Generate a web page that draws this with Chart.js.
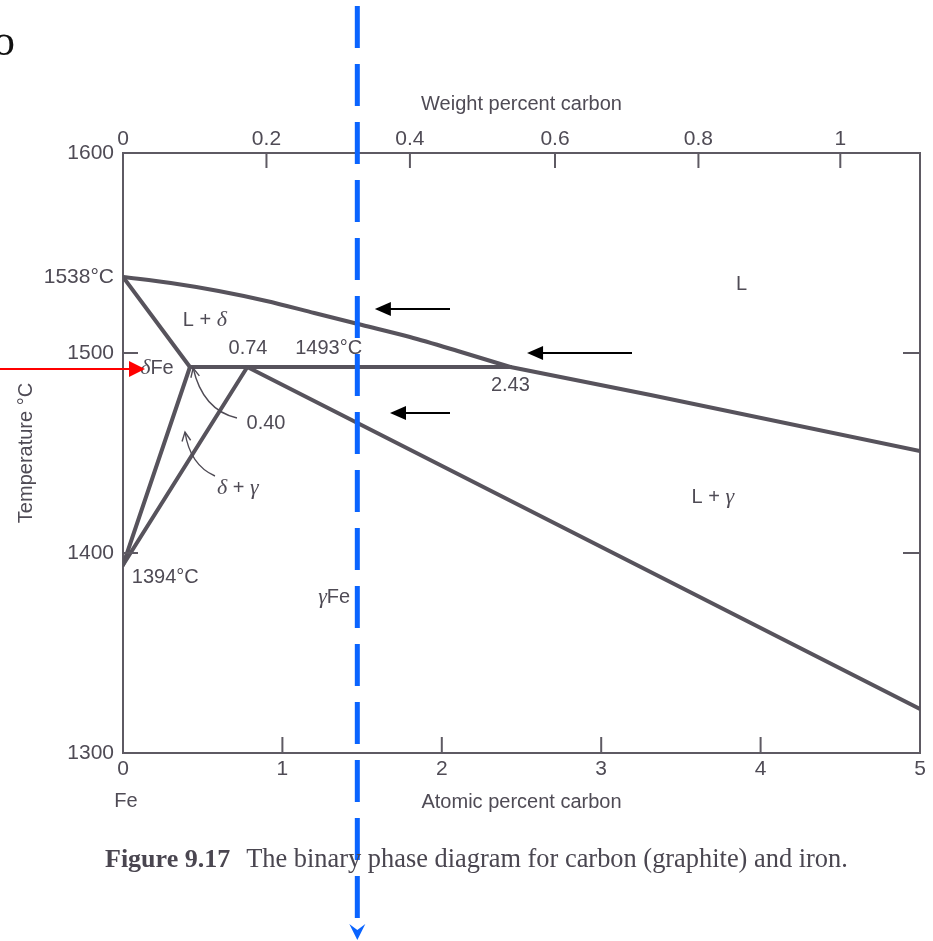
<!DOCTYPE html>
<html><head><meta charset="utf-8">
<script src="https://cdn.jsdelivr.net/npm/chart.js@4.4.1/dist/chart.umd.min.js"></script>
<style>html,body{margin:0;padding:0;background:#fff}#wrap{width:933px;height:941px;position:relative}</style>
</head><body><div id="wrap"><canvas id="c"></canvas></div>
<script>
// ---- data (atomic percent carbon vs temperature °C) ----
const atomicTicks = [0, 1, 2, 3, 4, 5];
const weightTickLabels = ['0', '0.2', '0.4', '0.6', '0.8', '1'];
const weightTickAtomic = [0, 0.90, 1.80, 2.71, 3.61, 4.50];
const tempTicks = [1300, 1400, 1500, 1538, 1600];
const tempTickLabels = ['1300', '1400', '1500', '1538°C', '1600'];
const innerTempTicks = [1400, 1500];

const liquidusDeltaX = [0, 0.3, 0.6, 0.9, 1.2, 1.5, 1.8, 2.1, 2.43];
const liquidusDeltaT = [1538, 1535, 1531, 1526, 1520, 1514, 1508, 1501, 1493];
const liquidusGammaX = [2.43, 3.31, 5];
const liquidusGammaT = [1493, 1479, 1451];
const solidusDeltaX = [0, 0.42];
const solidusDeltaT = [1538, 1493];
const deltaSolvusX = [0.42, 0];
const deltaSolvusT = [1493, 1394];
const gammaSolvusX = [0.78, 0];
const gammaSolvusT = [1493, 1394];
const peritecticX = [0.42, 2.43];
const peritecticT = [1493, 1493];
const gammaSolidusX = [0.78, 5];
const gammaSolidusT = [1493, 1322];
const markerComposition = [1.47];

// ---- styles ----
const SANS = '"Liberation Sans", Arial, sans-serif';
const SERIF = '"Liberation Serif", "DejaVu Serif", serif';
const TXT = '#4f4b55';
const AX = '#5e5a63';
const LINE = '#57535c';

const mk = (xs, ts) => xs.map((v, i) => ({x: v, y: ts[i]}));
const lineDs = (label, xs, ts, tension) => ({
  label, data: mk(xs, ts), showLine: true, borderColor: LINE, borderWidth: 4,
  pointRadius: 0, tension: tension || 0, fill: false, borderCapStyle: 'round', borderJoinStyle: 'round'
});

const regionLabels = [
  {x: 0.514, y: 1516.5, parts: [['L + ', 'n'], ['δ', 'g']]},
  {x: 0.784, y: 1502.5, parts: [['0.74', 'n']]},
  {x: 1.29, y: 1502.5, parts: [['1493°C', 'n']]},
  {x: 0.213, y: 1492.5, parts: [['δ', 'g'], ['Fe', 'n']]},
  {x: 0.897, y: 1465, parts: [['0.40', 'n']]},
  {x: 0.72, y: 1432.5, parts: [['δ', 'g'], [' + ', 'n'], ['γ', 'g']]},
  {x: 0.265, y: 1388, parts: [['1394°C', 'n']]},
  {x: 1.325, y: 1378, parts: [['γ', 'g'], ['Fe', 'n']]},
  {x: 2.43, y: 1484, parts: [['2.43', 'n']]},
  {x: 3.88, y: 1534.5, parts: [['L', 'n']]},
  {x: 3.70, y: 1428, parts: [['L + ', 'n'], ['γ', 'g']]}
];

function drawRich(ctx, parts, cx, cy) {
  const fonts = {n: '20px ' + SANS, g: 'italic 22px ' + SERIF};
  let w = 0;
  parts.forEach(p => { ctx.font = fonts[p[1]]; w += ctx.measureText(p[0]).width; });
  let x = cx - w / 2;
  ctx.textBaseline = 'middle'; ctx.textAlign = 'left'; ctx.fillStyle = TXT;
  parts.forEach(p => { ctx.font = fonts[p[1]]; ctx.fillText(p[0], x, cy); x += ctx.measureText(p[0]).width; });
}

function seg(ctx, x1, y1, x2, y2) { ctx.beginPath(); ctx.moveTo(x1, y1); ctx.lineTo(x2, y2); ctx.stroke(); }

function arrowLeft(ctx, xTail, xTip, yy, color, w, hl, hw) {
  ctx.strokeStyle = color; ctx.fillStyle = color; ctx.lineWidth = w;
  seg(ctx, xTail, yy, xTip + hl - 1, yy);
  ctx.beginPath(); ctx.moveTo(xTip, yy); ctx.lineTo(xTip + hl, yy - hw); ctx.lineTo(xTip + hl, yy + hw); ctx.closePath(); ctx.fill();
}
function arrowRight(ctx, xTail, xTip, yy, color, w, hl, hw) {
  ctx.strokeStyle = color; ctx.fillStyle = color; ctx.lineWidth = w;
  seg(ctx, xTail, yy, xTip - hl + 1, yy);
  ctx.beginPath(); ctx.moveTo(xTip, yy); ctx.lineTo(xTip - hl, yy - hw); ctx.lineTo(xTip - hl, yy + hw); ctx.closePath(); ctx.fill();
}

const overlay = {
  id: 'overlay',
  afterDraw(chart) {
    const ctx = chart.ctx, xs = chart.scales.x, ys = chart.scales.y, ca = chart.chartArea;
    const px = v => xs.getPixelForValue(v), py = v => ys.getPixelForValue(v);
    ctx.save();
    // inner tick marks
    ctx.strokeStyle = AX; ctx.lineWidth = 2; ctx.lineCap = 'butt';
    atomicTicks.slice(1, -1).forEach(v => seg(ctx, px(v), ca.bottom, px(v), ca.bottom - 16));
    weightTickAtomic.slice(1).forEach(v => seg(ctx, px(v), ca.top, px(v), ca.top + 15));
    innerTempTicks.forEach(v => { seg(ctx, ca.left, py(v), ca.left + 15, py(v)); seg(ctx, ca.right, py(v), ca.right - 17, py(v)); });

    // region labels
    regionLabels.forEach(l => drawRich(ctx, l.parts, px(l.x), py(l.y)));
    // Fe under origin
    ctx.font = '20px ' + SANS; ctx.fillStyle = TXT; ctx.textAlign = 'center'; ctx.textBaseline = 'middle';
    ctx.fillText('Fe', px(0) + 3, 801);

    // thin curved pointers
    ctx.strokeStyle = TXT; ctx.lineWidth = 1.4;
    const curves = [
      {s: [0.715, 1467.5], c: [0.50, 1471.5], t: [0.44, 1492.5]},
      {s: [0.577, 1438.5], c: [0.42, 1444], t: [0.389, 1460.5]}
    ];
    curves.forEach(cv => {
      const sx = px(cv.s[0]), sy = py(cv.s[1]), cx = px(cv.c[0]), cy = py(cv.c[1]), tx = px(cv.t[0]), ty = py(cv.t[1]);
      ctx.beginPath(); ctx.moveTo(sx, sy); ctx.quadraticCurveTo(cx, cy, tx, ty); ctx.stroke();
      const a = Math.atan2(ty - cy, tx - cx), L = 10, sp = 0.45;
      ctx.beginPath();
      ctx.moveTo(tx - L * Math.cos(a - sp), ty - L * Math.sin(a - sp)); ctx.lineTo(tx, ty);
      ctx.lineTo(tx - L * Math.cos(a + sp), ty - L * Math.sin(a + sp)); ctx.stroke();
    });

    // blue dashed composition marker
    const bx = px(markerComposition[0]);
    ctx.strokeStyle = '#0a64ff'; ctx.lineWidth = 5; ctx.setLineDash([42, 16]);
    seg(ctx, bx, 6, bx, 928);
    ctx.setLineDash([]);
    ctx.fillStyle = '#0a64ff';
    ctx.beginPath(); ctx.moveTo(bx - 8, 924); ctx.lineTo(bx, 940); ctx.lineTo(bx + 8, 924); ctx.lineTo(bx, 930); ctx.closePath(); ctx.fill();

    // black arrows
    arrowLeft(ctx, 450, px(1.58), py(1522), '#000', 2, 16, 7);
    arrowLeft(ctx, 632, px(2.535), py(1500), '#000', 2, 16, 7);
    arrowLeft(ctx, 450, px(1.675), py(1470), '#000', 2, 16, 7);
    // red arrow
    arrowRight(ctx, 0, px(0.138), py(1492), '#ff0000', 2, 16, 8);

    // stray letter from page text, top-left
    ctx.fillStyle = '#111'; ctx.font = '44px ' + SERIF; ctx.textAlign = 'left'; ctx.textBaseline = 'alphabetic';
    ctx.fillText('o', -7, 55);

    // caption
    ctx.fillStyle = '#4a4650'; ctx.textBaseline = 'alphabetic';
    ctx.font = 'bold 26px ' + SERIF;
    const cap1 = 'Figure 9.17';
    ctx.fillText(cap1, 105, 867);
    const w1 = ctx.measureText(cap1).width;
    ctx.font = '26.4px ' + SERIF;
    ctx.fillText('The binary phase diagram for carbon (graphite) and iron.', 105 + w1 + 16, 867);
    ctx.restore();
  }
};

const tickFont = {family: SANS, size: 21};
const titleFont = {family: SANS, size: 20};
new Chart(document.getElementById('c'), {
  type: 'scatter',
  data: {datasets: [
    lineDs('Liquidus (L / L+δ)', liquidusDeltaX, liquidusDeltaT, 0.3),
    lineDs('Liquidus (L / L+γ)', liquidusGammaX, liquidusGammaT),
    lineDs('δ solidus', solidusDeltaX, solidusDeltaT),
    lineDs('δ solvus', deltaSolvusX, deltaSolvusT),
    lineDs('γ solvus', gammaSolvusX, gammaSolvusT),
    lineDs('Peritectic 1493°C', peritecticX, peritecticT),
    lineDs('γ solidus', gammaSolidusX, gammaSolidusT)
  ]},
  options: {
    responsive: true, maintainAspectRatio: false, animation: false,
    layout: {padding: {left: 0, right: 13, top: 0, bottom: 0}},
    plugins: {legend: {display: false}, tooltip: {enabled: false}},
    scales: {
      x: {
        type: 'linear', position: 'bottom', min: 0, max: 5,
        afterFit: s => { s.height = 188; },
        afterBuildTicks: s => { s.ticks = atomicTicks.map(v => ({value: v})); },
        ticks: {color: TXT, font: tickFont, padding: 4, autoSkip: false, maxRotation: 0, callback: v => String(v)},
        grid: {display: false, drawTicks: false},
        border: {display: true, color: AX, width: 2},
        title: {display: true, text: 'Atomic percent carbon', color: TXT, font: titleFont, padding: {top: 0, bottom: 127}}
      },
      x2: {
        type: 'linear', position: 'top', min: 0, max: 5,
        afterFit: s => { s.height = 153; },
        afterBuildTicks: s => { s.ticks = weightTickAtomic.map(v => ({value: v})); },
        ticks: {color: TXT, font: tickFont, padding: 1, autoSkip: false, maxRotation: 0, callback: (v, i) => weightTickLabels[i]},
        grid: {display: false, drawTicks: false},
        border: {display: true, color: AX, width: 2},
        title: {display: true, text: 'Weight percent carbon', color: TXT, font: titleFont, padding: {top: 92, bottom: 0}}
      },
      y: {
        type: 'linear', position: 'left', min: 1300, max: 1600,
        afterFit: s => { s.width = 123; },
        afterBuildTicks: s => { s.ticks = tempTicks.map(v => ({value: v})); },
        ticks: {color: TXT, font: tickFont, padding: 9, autoSkip: false, callback: (v, i) => tempTickLabels[i]},
        grid: {display: false, drawTicks: false},
        border: {display: true, color: AX, width: 2},
        title: {display: true, text: 'Temperature °C', color: TXT, font: titleFont, padding: {top: 14, bottom: 0}}
      },
      y2: {
        type: 'linear', position: 'right', min: 1300, max: 1600,
        afterFit: s => { s.width = 0; },
        ticks: {display: false},
        grid: {display: false, drawTicks: false},
        border: {display: true, color: AX, width: 2}
      }
    }
  },
  plugins: [overlay]
});
</script>
</body></html>
